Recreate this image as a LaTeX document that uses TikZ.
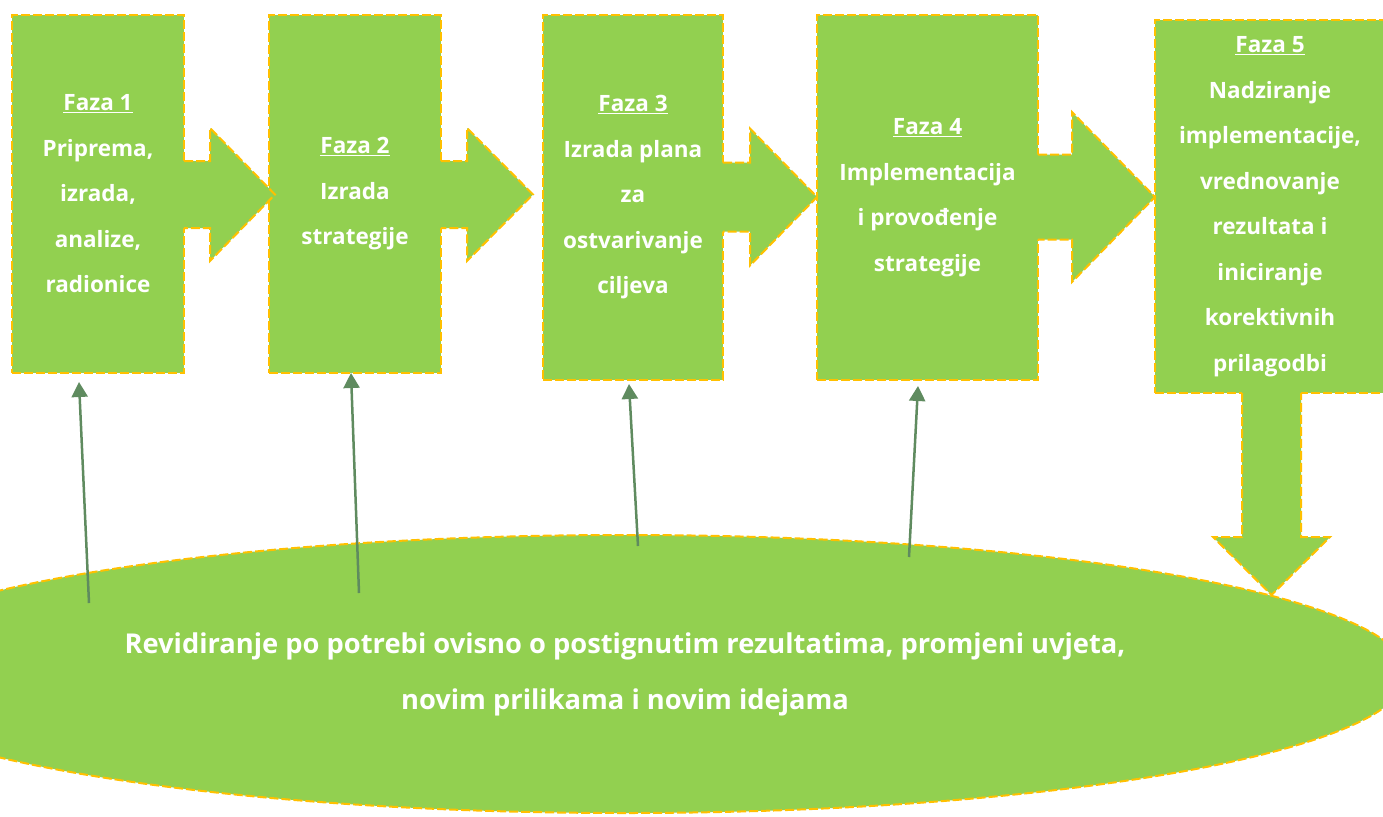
\documentclass[tikz,border=0pt]{standalone}
\usepackage{fontspec}
\setmainfont{Open Sans}
\usepackage{tikz}
\usetikzlibrary{shapes.geometric}
\usetikzlibrary{arrows.meta}
\definecolor{leaf}{RGB}{146,208,80}
\definecolor{amber}{RGB}{255,192,0}
\definecolor{moss}{RGB}{95,139,95}

\begin{document}
\begin{tikzpicture}[x=1pt,y=-1pt]
\tikzstyle{phase}=[rectangle,draw=amber,fill=leaf,line width=2pt,dash pattern=on 9pt off 3pt,text=white,font=\fontsize{22.5}{45.5}\selectfont\bfseries,align=center,inner sep=0pt]
\tikzstyle{rim}=[draw=amber,line width=2pt,dash pattern=on 9pt off 3pt,line join=miter]
\tikzstyle{link}=[-{Triangle[width=16pt,length=15pt]},draw=moss,fill=moss,line width=2.5pt]

\clip (0,0) rectangle (1383,816);

\node [phase,ellipse,minimum width=1564pt,minimum height=278pt,font=\fontsize{27.3}{56}\selectfont\bfseries] (R) at (625,674) {Revidiranje po potrebi ovisno o postignutim rezultatima, promjeni uvjeta,\\novim prilikama i novim idejama};

\node [phase,minimum width=172pt,minimum height=358pt] (F1) at (98,194) {\underline{Faza 1}\\Priprema,\\izrada,\\analize,\\radionice};
\node [phase,minimum width=172pt,minimum height=358pt] (F2) at (355,194) {\underline{Faza 2}\\Izrada\\strategije};
\node [phase,minimum width=180pt,minimum height=365pt] (F3) at (633,197.5) {\underline{Faza 3}\\Izrada plana\\za\\ostvarivanje\\ciljeva};
\node [phase,minimum width=221pt,minimum height=365pt] (F4) at (927.5,197.5) {\underline{Faza 4}\\Implementacija\\i provođenje\\strategije};
\node [phase,minimum width=230pt,minimum height=373pt] (F5) at (1270,206.5) {\underline{Faza 5}\\Nadziranje\\implementacije,\\vrednovanje\\rezultata i\\iniciranje\\korektivnih\\prilagodbi};

% block arrows between the phases
\foreach \xs/\xh/\xt/\ym/\ws/\wh in {184/210/275/194.5/33.5/66.5, 441/467/533/194.5/33.5/66.5, 723/750/817/197/34.5/68.5, 1038/1072/1155/197/42.5/85}{
  \fill[leaf] (\xs-2,\ym-\ws) -- (\xh,\ym-\ws) -- (\xh,\ym-\wh) -- (\xt,\ym) -- (\xh,\ym+\wh) -- (\xh,\ym+\ws) -- (\xs-2,\ym+\ws) -- cycle;
  \draw[rim] (\xs,\ym-\ws) -- (\xh,\ym-\ws) -- (\xh,\ym-\wh) -- (\xt,\ym) -- (\xh,\ym+\wh) -- (\xh,\ym+\ws) -- (\xs,\ym+\ws);
}

% down arrow to the revision
\fill[leaf] (1242,391) -- (1242,537) -- (1213,537) -- (1271.5,595) -- (1330,537) -- (1301,537) -- (1301,391) -- cycle;
\draw[rim] (1242,393) -- (1242,537) -- (1213,537) -- (1271.5,595) -- (1330,537) -- (1301,537) -- (1301,393);

\coordinate (t1) at (89,603);
\coordinate (t2) at (359,593);
\coordinate (t3) at (638,546);
\coordinate (t4) at (909,557);

\draw[link] (t1) -- ([xshift=-19pt,yshift=-8pt]F1.south);
\draw[link] (t2) -- ([xshift=-4pt,yshift=1pt]F2.south);
\draw[link] (t3) -- ([xshift=-4pt,yshift=-3pt]F3.south);
\draw[link] (t4) -- ([xshift=-9.5pt,yshift=-5pt]F4.south);

\end{tikzpicture}
\end{document}
